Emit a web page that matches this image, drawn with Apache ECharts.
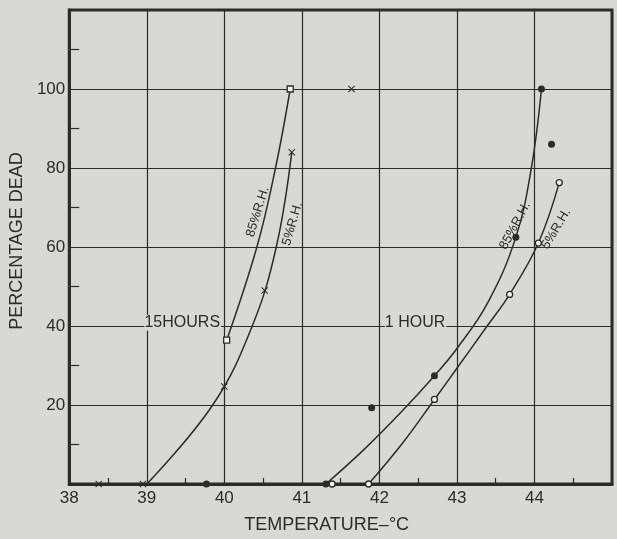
<!DOCTYPE html>
<html>
<head>
<meta charset="utf-8">
<script src="https://cdn.jsdelivr.net/npm/echarts@6/dist/echarts.min.js"></script>
<style>
html,body{margin:0;padding:0;background:#d9d9d3;}
#chart{width:617px;height:539px;}
</style>
</head>
<body>
<div id="chart"></div>
<script>
// X ticks / Y ticks
const xTicks = [38, 39, 40, 41, 42, 43, 44, 45];
const yTicks = [0, 20, 40, 60, 80, 100, 120];

// Fitted curves
const curve15h85 = [[40.03, 36.4], [40.42, 60], [40.66, 80], [40.85, 100]];
const curve15h5 = [[39.0, 0], [39.85, 20], [40.36, 40], [40.67, 60], [40.87, 84]];
const curve1h85 = [[41.31, 0], [41.8, 8.7], [42.3, 18.6], [42.71, 27.4], [43.0, 34.3], [43.4, 46], [43.76, 62.5], [43.96, 80], [44.09, 100]];
const curve1h5 = [[41.86, 0], [42.3, 10.4], [42.71, 21.4], [43.0, 29.3], [43.39, 40], [43.68, 48], [44.05, 61], [44.32, 76.3]];

// Observed points
const squares15h85 = [[40.03, 36.4], [40.85, 100]];
const crosses15h5 = [[38.38, 0], [38.95, 0], [40.0, 24.7], [40.52, 49], [40.87, 84], [41.64, 100]];
const dots1h85 = [[39.77, 0], [41.31, 0], [41.9, 19.3], [42.71, 27.4], [43.76, 62.5], [44.09, 100], [44.22, 86]];
const circles1h5 = [[41.39, 0], [41.86, 0], [42.71, 21.4], [43.68, 48], [44.05, 61], [44.32, 76.3]];

// Annotations: [x, y, text]
const groupLabels = [[38.97, 38.8, '15HOURS'], [42.07, 38.8, '1 HOUR']];
const curveLabels = [[40.43, 68.9, '85%R.H.', 73], [40.88, 65.9, '5%R.H.', 74], [43.75, 65.4, '85%R.H.', 62], [44.28, 64.6, '5%R.H.', 59]];

const ink = '#2b2b2b';
const bg = '#d9d9d3';
const font = 'Liberation Sans';
const chart = echarts.init(document.getElementById('chart'), null, {renderer: 'canvas'});

const crossPath = 'path://M0,1L1,0L5,4L9,0L10,1L6,5L10,9L9,10L5,6L1,10L0,9L4,5Z';

function curveSeries(data) {
  return {type: 'line', data: data, smooth: 0.4, showSymbol: false, symbol: 'none',
    lineStyle: {color: ink, width: 1.5}, silent: true, z: 3};
}

const option = {
  backgroundColor: bg,
  animation: false,
  textStyle: {fontFamily: font},
  grid: {left: 62, right: 5, top: 10, bottom: 53, show: true, borderColor: ink, borderWidth: 3, backgroundColor: 'transparent'},
  xAxis: {
    type: 'value', min: xTicks[0], max: xTicks[xTicks.length - 1], interval: 1,
    name: 'TEMPERATURE\u2013\u00B0C', nameLocation: 'middle', nameGap: 32,
    nameTextStyle: {color: ink, fontSize: 18, fontFamily: font, padding: [0, 28, 0, 0]},
    axisLine: {show: true, lineStyle: {color: ink, width: 3}},
    axisTick: {show: false, inside: true},
    minorTick: {show: true, splitNumber: 2, length: 6, lineStyle: {color: ink, width: 1.2}},
    axisLabel: {color: ink, fontSize: 17, fontFamily: font, margin: 6,
      formatter: function (v) { return v === 45 ? '' : String(v); }},
    splitLine: {show: true, lineStyle: {color: ink, width: 1.2}}
  },
  yAxis: {
    type: 'value', min: yTicks[0], max: yTicks[yTicks.length - 1], interval: 20,
    name: 'PERCENTAGE DEAD', nameLocation: 'middle', nameGap: 38, nameRotate: 90,
    nameTextStyle: {color: ink, fontSize: 18, fontFamily: font, padding: [0, 0, 0, 12]},
    axisLine: {show: true, lineStyle: {color: ink, width: 3}},
    axisTick: {show: false, inside: true},
    minorTick: {show: true, splitNumber: 2, length: 10, lineStyle: {color: ink, width: 1.2}},
    axisLabel: {color: ink, fontSize: 17, fontFamily: font, margin: 4,
      formatter: function (v) { return (v === 0 || v === 120) ? '' : String(v); }},
    splitLine: {show: true, lineStyle: {color: ink, width: 1.2}}
  },
  series: [
    curveSeries(curve15h85),
    curveSeries(curve15h5),
    curveSeries(curve1h85),
    curveSeries(curve1h5),
    {type: 'scatter', data: squares15h85, symbol: 'rect', symbolSize: 6,
      itemStyle: {color: '#f4f4f0', borderColor: ink, borderWidth: 1.3, opacity: 1}, z: 5},
    {type: 'scatter', data: crosses15h5, symbol: crossPath, symbolSize: 7,
      itemStyle: {color: ink, opacity: 1}, z: 5},
    {type: 'scatter', data: dots1h85, symbol: 'circle', symbolSize: 7,
      itemStyle: {color: ink, opacity: 1}, z: 5},
    {type: 'scatter', data: circles1h5, symbol: 'circle', symbolSize: 6,
      itemStyle: {color: '#f4f4f0', borderColor: ink, borderWidth: 1.3, opacity: 1}, z: 5},
    {type: 'scatter', symbolSize: 0, silent: true, z: 6, itemStyle: {opacity: 1},
      data: groupLabels.map(function (d) { return {value: [d[0], d[1]], name: d[2]}; }),
      label: {show: true, position: 'inside', align: 'left', verticalAlign: 'bottom',
        formatter: '{b}', color: ink, opacity: 1, fontSize: 16, fontFamily: font,
        backgroundColor: bg, padding: [0, 1, 0, 0]}},
    {type: 'scatter', symbolSize: 0, silent: true, z: 6, itemStyle: {opacity: 1},
      data: curveLabels.map(function (d) {
        return {value: [d[0], d[1]], name: d[2], label: {rotate: d[3]}};
      }),
      label: {show: true, position: 'inside', align: 'center', verticalAlign: 'middle',
        formatter: '{b}', color: ink, opacity: 1, fontSize: 13, fontFamily: font}}
  ]
};
chart.setOption(option);
</script>
</body>
</html>
